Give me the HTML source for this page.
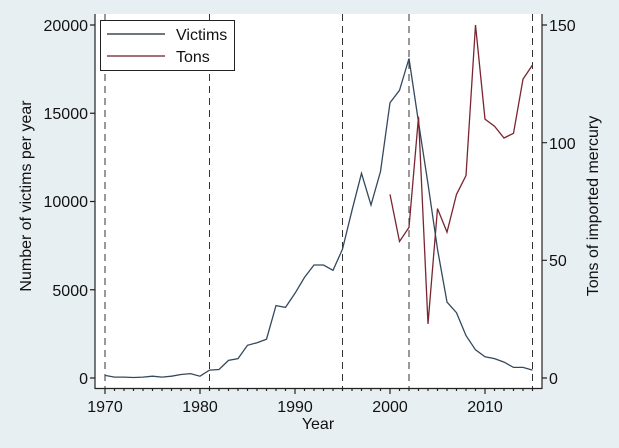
<!DOCTYPE html>
<html><head><style>
body{margin:0;background:#e8eff3;}
svg{display:block;font-family:"Liberation Sans",Arial,sans-serif;}
</style></head><body>
<svg width="619" height="448" viewBox="0 0 619 448">
<rect width="619" height="448" fill="#e8eff3"/>
<rect x="95" y="14" width="447" height="374" fill="#fff"/>
<g stroke="#333" stroke-width="1" stroke-dasharray="7,5">
<line x1="105" y1="14" x2="105" y2="388"/>
<line x1="209.5" y1="14" x2="209.5" y2="388"/>
<line x1="342.5" y1="14" x2="342.5" y2="388"/>
<line x1="409" y1="14" x2="409" y2="388"/>
<line x1="532.5" y1="14" x2="532.5" y2="388"/>
</g>
<g stroke="#222" stroke-width="1.2" fill="none">
<line x1="95" y1="14" x2="95" y2="389"/>
<line x1="542" y1="14" x2="542" y2="389"/>
<line x1="95" y1="388.5" x2="542" y2="388.5"/>
<path d="M90 25H95M90 113.25H95M90 201.5H95M90 289.75H95M90 378H95"/>
<path d="M542 25H547M542 142.7H547M542 260.3H547M542 378H547"/>
<path d="M105 388V394M200 388V394M295 388V394M390 388V394M485 388V394"/>
<path d="M114.5 388v3M124 388v3M133.5 388v3M143 388v3M152.5 388v3M162 388v3M171.5 388v3M181 388v3M190.5 388v3M209.5 388v3M219 388v3M228.5 388v3M238 388v3M247.5 388v3M257 388v3M266.5 388v3M276 388v3M285.5 388v3M304.5 388v3M314 388v3M323.5 388v3M333 388v3M342.5 388v3M352 388v3M361.5 388v3M371 388v3M380.5 388v3M399.5 388v3M409 388v3M418.5 388v3M428 388v3M437.5 388v3M447 388v3M456.5 388v3M466 388v3M475.5 388v3M494.5 388v3M504 388v3M513.5 388v3M523 388v3M532.5 388v3"/>
</g>
<g font-size="16" fill="#111" text-anchor="end">
<text x="88" y="31">20000</text>
<text x="88" y="119">15000</text>
<text x="88" y="207">10000</text>
<text x="88" y="296">5000</text>
<text x="88" y="384">0</text>
</g>
<g font-size="16" fill="#111">
<text x="549" y="31">150</text>
<text x="549" y="149">100</text>
<text x="549" y="266">50</text>
<text x="549" y="384">0</text>
</g>
<g font-size="16" fill="#111" text-anchor="middle">
<text x="105" y="412">1970</text>
<text x="200" y="412">1980</text>
<text x="295" y="412">1990</text>
<text x="390" y="412">2000</text>
<text x="485" y="412">2010</text>
<text x="318" y="429">Year</text>
<text transform="translate(31,196) rotate(-90)">Number of victims per year</text>
<text transform="translate(598,206) rotate(-90)">Tons of imported mercury</text>
</g>
<polyline fill="none" stroke="#34495e" stroke-width="1.3" points="105,375.4 114.5,377.1 124,377.1 133.5,377.5 143,377.1 152.5,376.2 162,377.1 171.5,376.2 181,374.5 190.5,373.6 200,376.2 209.5,370.1 219,369.5 228.5,360.4 238,358.6 247.5,345.3 257,342.7 266.5,339.2 276,305.6 285.5,307.4 295,293.3 304.5,277.4 314,265 323.5,265 333,270.3 342.5,249.2 352,210.3 361.5,173.3 371,205 380.5,171.5 390,102.7 399.5,90.3 409,58.5 418.5,122.1 428,183.9 437.5,249.2 447,302.1 456.5,312.7 466,335.6 475.5,349.8 485,356.8 494.5,358.6 504,362.1 513.5,367.4 523,367.4 532.5,370.1"/>
<polyline fill="none" stroke="#7a2630" stroke-width="1.3" points="390,194.4 399.5,241.5 409,227.4 418.5,116.8 428,323.9 437.5,208.6 447,232.1 456.5,194.4 466,175.6 475.5,25 485,119.1 494.5,126.2 504,138 513.5,133.3 523,79.1 532.5,65"/>
<rect x="100.5" y="20.5" width="134" height="50" fill="#fff" stroke="#222" stroke-width="1"/>
<line x1="107" y1="34" x2="165" y2="34" stroke="#1a2533" stroke-width="1.2"/>
<line x1="107" y1="56" x2="165" y2="56" stroke="#6a1a25" stroke-width="1.2"/>
<g font-size="16" fill="#111">
<text x="176" y="40">Victims</text>
<text x="176" y="62">Tons</text>
</g>
</svg>
</body></html>
